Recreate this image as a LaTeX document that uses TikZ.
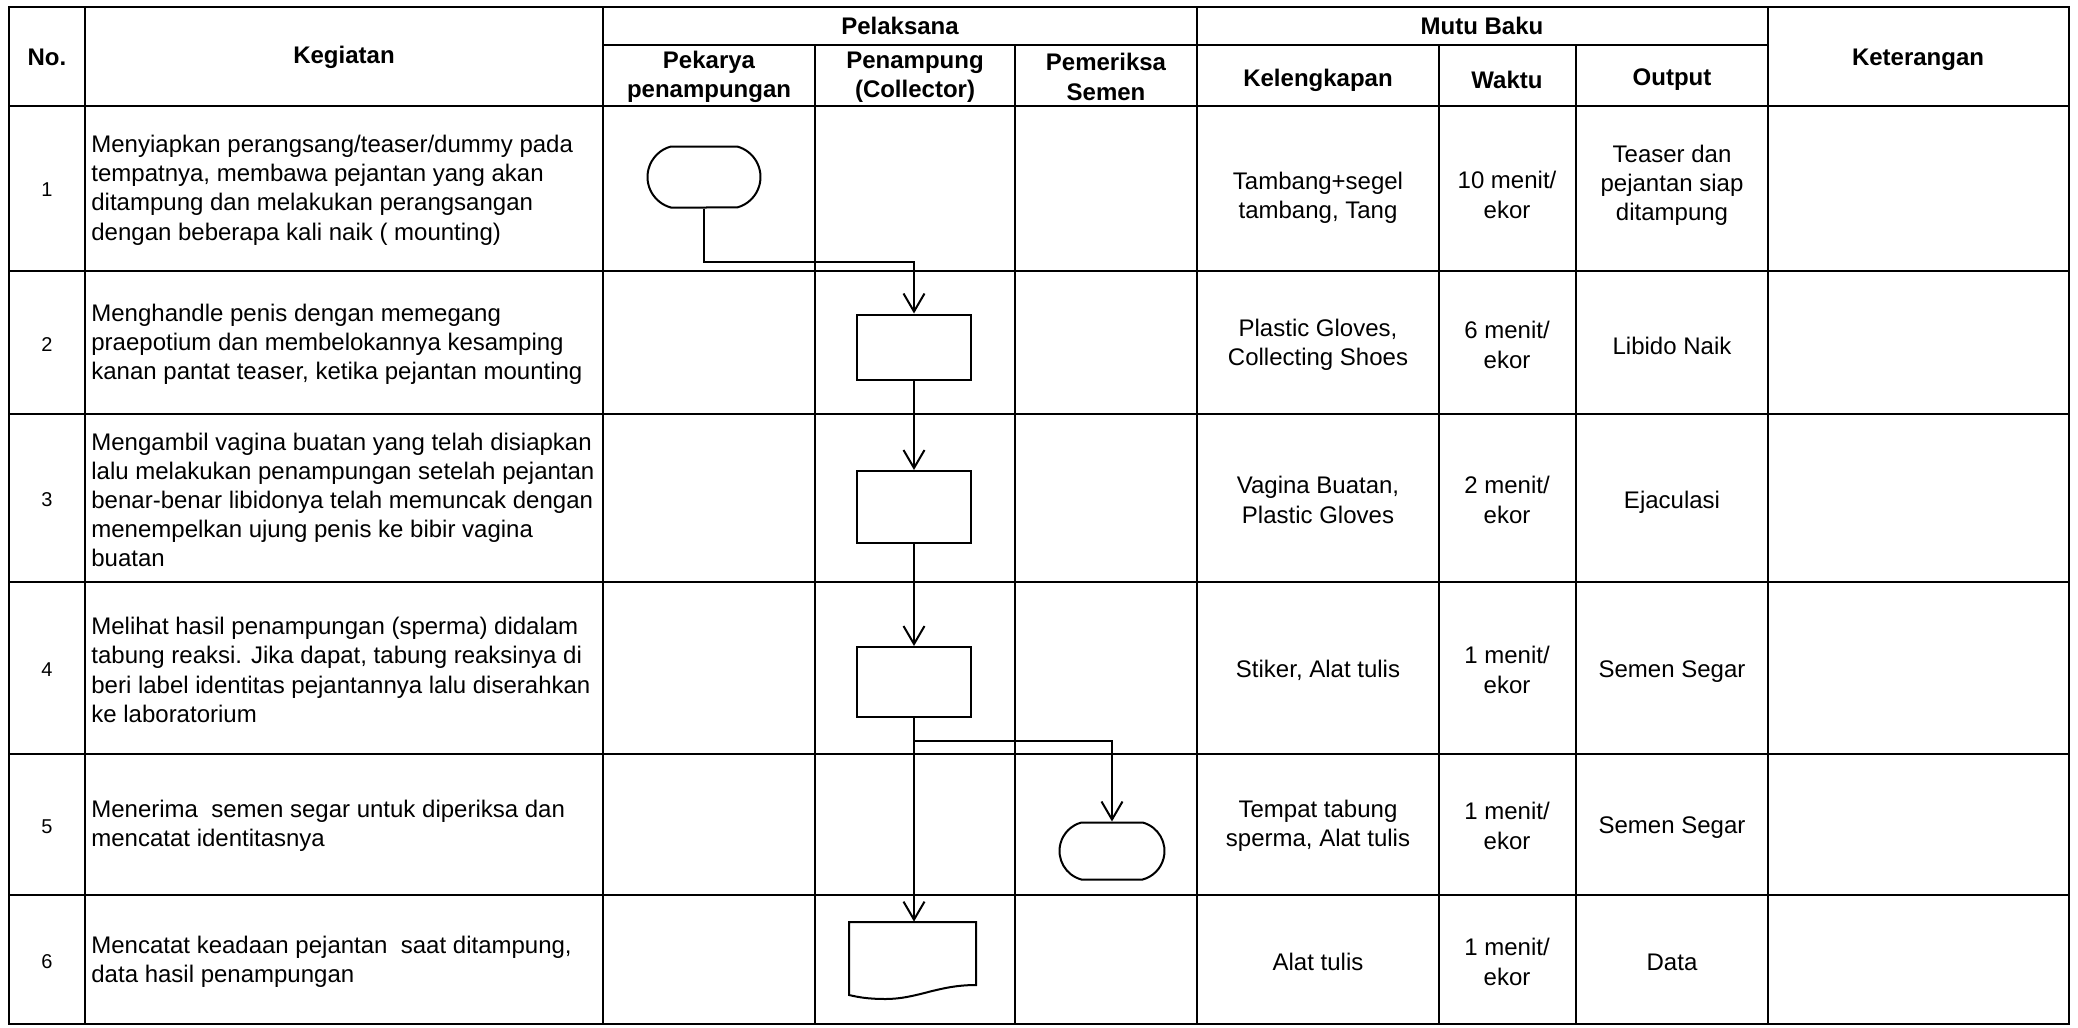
\documentclass[tikz,border=0pt]{standalone}
\usepackage{fontspec}
\setmainfont{Liberation Sans}
\usetikzlibrary{arrows.meta,shapes.misc}
\begin{document}
\begin{tikzpicture}[x=0.5pt,y=-0.5pt,
  grid/.style={line width=1.2pt,line cap=rect},
  hdr/.style={font=\fontsize{12}{14.6}\selectfont\bfseries,align=center,inner sep=0pt},
  cell/.style={font=\fontsize{12}{14.6}\selectfont,align=center,inner sep=0pt},
  task/.style={font=\fontsize{12}{14.6}\selectfont,align=left,anchor=west,inner sep=0pt},
  num/.style={font=\fontsize{10}{12}\selectfont,inner sep=0pt},
  flowline/.style={line width=1pt},
  flowarr/.style={line width=1pt,-{Straight Barb[length=9pt,width=10.5pt]}},
  termbox/.style={rounded rectangle,rounded rectangle arc length=150,draw,line width=1pt,minimum width=56.5pt,minimum height=30.5pt,inner sep=0pt},
  procbox/.style={rectangle,draw,line width=1pt,minimum width=57pt,inner sep=0pt},
  docbox/.style={rectangle,minimum width=63.5pt,minimum height=32pt,inner sep=0pt}
]
\fill[white] (0,0) rectangle (2078,1028);
\useasboundingbox (0,0) rectangle (2078,1028);

% table grid
\draw[grid] (9,7) rectangle (2069,1024);
\foreach \yy in {106,271,414,582,754,895} \draw[grid] (9,\yy) -- (2069,\yy);
\draw[grid] (603,45) -- (1768,45);
\foreach \xx in {85,603,1197,1768} \draw[grid] (\xx,7) -- (\xx,1024);
\foreach \xx in {815,1015,1439,1576} \draw[grid] (\xx,45) -- (\xx,1024);

% headers
\node[hdr] (hno) at (47,57) {No.};
\node[hdr] (hkeg) at (344,57) {Kegiatan};
\node[hdr] (hpel) at (900,26) {Pelaksana};
\node[hdr] (hmutu) at (1482,26) {Mutu Baku};
\node[hdr] (hket) at (1918,60) {Keterangan};
\node[hdr] (hpek) at (709,77) {Pekarya\\penampungan};
\node[hdr] (hpen) at (915,77) {Penampung\\(Collector)};
\node[hdr] (hpem) at (1106,77) {Pemeriksa\\Semen};
\node[hdr] (hkel) at (1318,80) {Kelengkapan};
\node[hdr] (hwak) at (1507,80) {Waktu};
\node[hdr] (hout) at (1672,80) {Output};

% row 1
\node[num] (n1) at (47,190) {1};
\node[task] (k1) at (91,190) {Menyiapkan perangsang/teaser/dummy pada\\tempatnya, membawa pejantan yang akan\\ditampung dan melakukan perangsangan\\dengan beberapa kali naik ( mounting)};
\node[cell] (l1) at (1318,198) {Tambang+segel\\tambang, Tang};
\node[cell] (w1) at (1507,195) {10 menit/\\ekor};
\node[cell] (o1) at (1672,185) {Teaser dan\\pejantan siap\\ditampung};

% row 2
\node[num] (n2) at (47,345) {2};
\node[task] (k2) at (91,344) {Menghandle penis dengan memegang\\praepotium dan membelokannya kesamping\\kanan pantat teaser, ketika pejantan mounting};
\node[cell] (l2) at (1318,345) {Plastic Gloves,\\Collecting Shoes};
\node[cell] (w2) at (1507,345) {6 menit/\\ekor};
\node[cell] (o2) at (1672,346) {Libido Naik};

% row 3
\node[num] (n3) at (47,500) {3};
\node[task] (k3) at (91,500) {Mengambil vagina buatan yang telah disiapkan\\lalu melakukan penampungan setelah pejantan\\benar-benar libidonya telah memuncak dengan\\menempelkan ujung penis ke bibir vagina\\buatan};
\node[cell] (l3) at (1318,500) {Vagina Buatan,\\Plastic Gloves};
\node[cell] (w3) at (1507,500) {2 menit/\\ekor};
\node[cell] (o3) at (1672,502) {Ejaculasi};

% row 4
\node[num] (n4) at (47,670) {4};
\node[task] (k4) at (91,670) {Melihat hasil penampungan (sperma) didalam\\tabung reaksi. Jika dapat, tabung reaksinya di\\beri label identitas pejantannya lalu diserahkan\\ke laboratorium};
\node[cell] (l4) at (1318,670) {Stiker, Alat tulis};
\node[cell] (w4) at (1507,670) {1 menit/\\ekor};
\node[cell] (o4) at (1672,672) {Semen Segar};

% row 5
\node[num] (n5) at (47,827) {5};
\node[task] (k5) at (91,826) {Menerima~ semen segar untuk diperiksa dan\\mencatat identitasnya};
\node[cell] (l5) at (1318,826) {Tempat tabung\\sperma, Alat tulis};
\node[cell] (w5) at (1507,826) {1 menit/\\ekor};
\node[cell] (o5) at (1672,828) {Semen Segar};

% row 6
\node[num] (n6) at (47,962) {6};
\node[task] (k6) at (91,962) {Mencatat keadaan pejantan~ saat ditampung,\\data hasil penampungan};
\node[cell] (l6) at (1318,962) {Alat tulis};
\node[cell] (w6) at (1507,962) {1 menit/\\ekor};
\node[cell] (o6) at (1672,962) {Data};

% flow shapes
\node[termbox] (t1) at (704,177) {};
\node[procbox,minimum height=32.5pt] (b2) at (914,347) {};
\node[procbox,minimum height=36pt] (b3) at (914,507) {};
\node[procbox,minimum height=35pt] (b4) at (914,682) {};
\node[termbox,minimum width=52.5pt,minimum height=28.5pt] (t5) at (1112,851) {};
\node[docbox] (d6) at (912.5,954) {};
\draw[flowline,shift={(d6.center)}] (-63.5,-32) -- (63.5,-32) -- (63.5,31)
  .. controls (25,31) and (5,45) .. (-27,45)
  .. controls (-45,45) and (-55,43) .. (-63.5,41) -- cycle;

% connectors
\coordinate (k1c) at (914,262);
\coordinate (br) at (914,741);
\draw[flowarr] (t1.south) |- (k1c) -- (b2.north);
\draw[flowarr] (b2.south) -- (b3.north);
\draw[flowarr] (b3.south) -- (b4.north);
\draw[flowline] (b4.south) -- (br);
\draw[flowarr] (br) -| (t5.north);
\draw[flowarr] (br) -- (br |- d6.north);
\end{tikzpicture}
\end{document}
